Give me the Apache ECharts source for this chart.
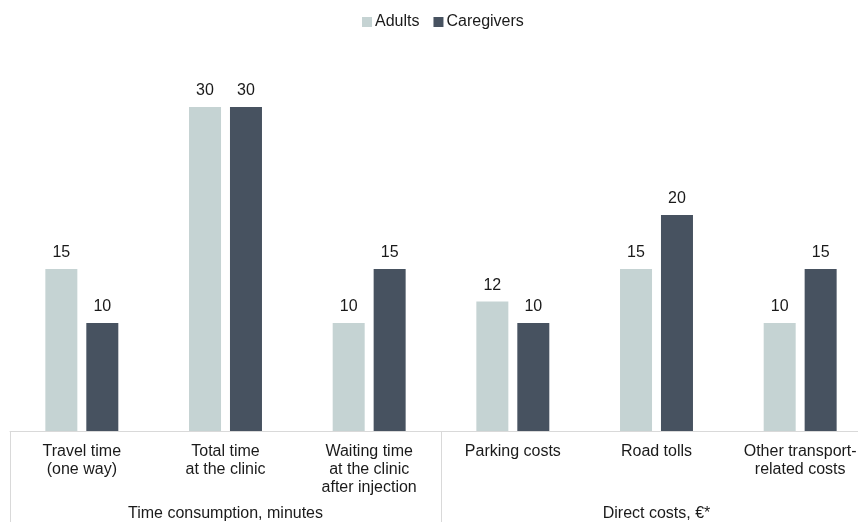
<!DOCTYPE html>
<html><head><meta charset="utf-8">
<script src="https://cdn.jsdelivr.net/npm/echarts@6/dist/echarts.min.js"></script>
<style>html,body{margin:0;padding:0;background:#fff;overflow:hidden}#c{width:872px;height:522px}</style>
</head><body><div id="c"></div>
<script>
const categories = ['Travel time\n(one way)', 'Total time\nat the clinic', 'Waiting time\nat the clinic\nafter injection', 'Parking costs', 'Road tolls', 'Other transport-\nrelated costs'];
const groups = ['Time consumption, minutes', 'Direct costs, €*'];
const seriesNames = ['Adults', 'Caregivers'];
const adults = [15, 30, 10, 12, 15, 10];
const caregivers = [10, 30, 15, 10, 20, 15];

const font = 'Liberation Sans, Arial, sans-serif';
const chart = echarts.init(document.getElementById('c'));
chart.setOption({
  animation: false,
  textStyle: { fontFamily: font },
  legend: {
    top: 9, left: 357, itemWidth: 10, itemHeight: 10, itemGap: 14,
    icon: 'rect',
    textStyle: { fontSize: 16, color: '#1a1a1a', fontFamily: font, padding: [0, 0, 0, -2] },
    data: seriesNames
  },
  grid: { left: 10, top: 107, right: 0, bottom: 91, containLabel: false },
  xAxis: [{
    type: 'category', data: categories, position: 'bottom',
    axisLine: { lineStyle: { color: '#d9d9d9', width: 1 } },
    axisTick: { show: false },
    axisLabel: { interval: 0, margin: 12, fontSize: 16, lineHeight: 18, color: '#1a1a1a', fontFamily: font }
  }, {
    type: 'category', data: groups, position: 'bottom',
    axisLine: { show: false },
    axisTick: { show: true, length: 95, alignWithLabel: false, lineStyle: { color: '#d9d9d9', width: 1 } },
    axisLabel: { interval: 0, margin: 75, fontSize: 16, color: '#1a1a1a', fontFamily: font }
  }],
  yAxis: { type: 'value', min: 0, max: 30, show: false, splitLine: { show: false } },
  series: [{
    name: seriesNames[0], type: 'bar', data: adults, barWidth: 32, barGap: '28%',
    itemStyle: { color: '#c5d3d3' },
    label: { show: true, position: 'top', distance: 8, fontSize: 16, color: '#1a1a1a', fontFamily: font }
  }, {
    name: seriesNames[1], type: 'bar', data: caregivers, barWidth: 32, barGap: '28%',
    itemStyle: { color: '#475260' },
    label: { show: true, position: 'top', distance: 8, fontSize: 16, color: '#1a1a1a', fontFamily: font }
  }]
});
</script></body></html>
